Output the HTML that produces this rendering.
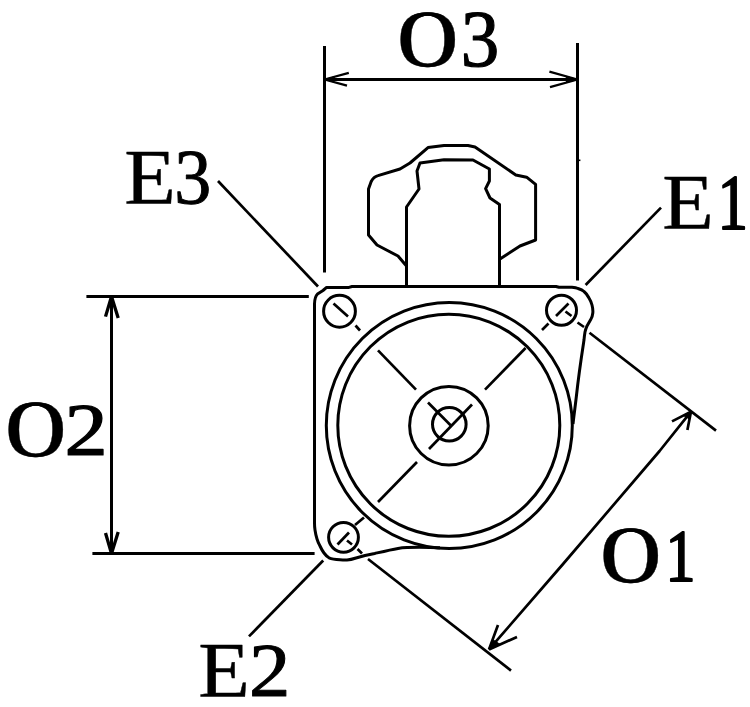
<!DOCTYPE html>
<html>
<head>
<meta charset="utf-8">
<title>Starter motor mounting diagram</title>
<style>
html,body{margin:0;padding:0;background:#fff;}
body{width:750px;height:707px;overflow:hidden;}
svg{display:block;}
.l{fill:none;stroke:#000;stroke-width:3;stroke-linecap:butt;stroke-linejoin:round;}
.l .f{fill:#000;stroke-width:1;}
.l .w{stroke-width:2.3;stroke-linejoin:miter;}
.g{stroke-width:2.7;}
.t{font-family:"Liberation Serif","DejaVu Serif",serif;font-size:80px;fill:#000;}
.o{font-size:80.5px;stroke:#000;stroke-width:0.4px;stroke-linejoin:round;}
.d{stroke:#000;stroke-width:1.2px;stroke-linejoin:round;}
.e{stroke:#000;stroke-width:0.4px;stroke-linejoin:round;}
.n{stroke-width:1.0px;}
</style>
</head>
<body>
<svg width="750" height="707" viewBox="0 0 750 707">
<defs>
<filter id="fo3" filterUnits="userSpaceOnUse" primitiveUnits="userSpaceOnUse" x="390" y="0" width="125" height="90"><feMorphology in="SourceGraphic" operator="dilate" radius="1 0" x="392" y="2" width="67" height="80" result="m"/><feMerge><feMergeNode in="SourceGraphic"/><feMergeNode in="m"/></feMerge></filter>
<filter id="fo2" filterUnits="userSpaceOnUse" primitiveUnits="userSpaceOnUse" x="0" y="390" width="125" height="90"><feMorphology in="SourceGraphic" operator="dilate" radius="1 0" x="1" y="392" width="65" height="80" result="m"/><feMerge><feMergeNode in="SourceGraphic"/><feMergeNode in="m"/></feMerge></filter>
<filter id="fo1" filterUnits="userSpaceOnUse" primitiveUnits="userSpaceOnUse" x="592" y="515" width="125" height="90"><feMorphology in="SourceGraphic" operator="dilate" radius="1 0" x="596" y="517" width="66" height="80" result="m"/><feMerge><feMergeNode in="SourceGraphic"/><feMergeNode in="m"/></feMerge></filter>
</defs>
<rect x="0" y="0" width="750" height="707" fill="#fff"/>

<!-- O3 dimension -->
<g class="l">
<path d="M324.5 46 V272.5"/>
<path d="M577.5 43 V280.5"/>
<path d="M324.5 79.5 H577.5"/>
<path class="w" style="stroke-width:2.3" d="M348.8 72.8 L324.5 79.5 M324.5 79.5 L347 85.6"/>
<path class="f" d="M324.5 79.5 L334.2 76.8 L333.5 81.9 Z"/>
<path class="w" style="stroke-width:2.3" d="M549.4 71.6 L577.5 79.5 M577.5 79.5 L550 87.2"/>
<path class="f" d="M577.5 79.5 L566.3 76.3 L566.5 82.6 Z"/>
<path d="M577.5 160.3 H580.4" style="stroke-width:1.6"/>
</g>

<!-- O2 dimension -->
<g class="l">
<path d="M86.4 296.5 H308.8"/>
<path d="M92.4 553.5 H314.6"/>
<path d="M111.5 296.5 V553.5"/>
<path class="w" style="stroke-width:3.3" d="M105.5 316.6 L111.5 296.5 M111.5 296.5 L118.2 318"/>
<path class="f" d="M111.5 296.5 L108.8 305.5 L114.5 306.2 Z"/>
<path class="w" style="stroke-width:3.3" d="M105.5 533 L111.5 553.5 M111.5 553.5 L118.2 532"/>
<path class="f" d="M111.5 553.5 L108.8 544.3 L114.5 543.8 Z"/>
</g>

<!-- O1 dimension -->
<g class="l">
<path class="g" d="M589.5 332.8 L716 430.6"/>
<path class="g" d="M368 559 L511 670.6"/>
<path class="g" d="M691 411.6 L659.6 451 L562.2 565 L489 649.4"/>
<path class="w" style="stroke-width:2.7" d="M672 421.4 L691 411.6 M691 411.6 L687.4 430"/>
<path class="f" d="M691 411.6 L683.4 415.5 L689.6 419.0 Z"/>
<path class="w" style="stroke-width:2.7" d="M498 625 L489 649.4 M489 649.4 L517 637"/>
<path class="f" d="M489 649.4 L492.6 639.6 L500.2 644.4 Z"/>
</g>

<!-- leaders -->
<g class="l g">
<path d="M218 181 L318 286.5"/>
<path d="M585.6 285 L661 207.6"/>
<path d="M323.2 560.5 L249 636.4"/>
</g>

<!-- solenoid -->
<g class="l">
<path d="M406.5 266 L398 256 L377 245 L368.5 235 L368.5 189 L371.2 181.5 Q373.6 176.8 378 175.6 L400 169 L410 163 L428 147.6 L444 145.5 L468 145.5 L475 147 L515.8 175 L526.6 177.2 L535.6 184.4 L535.6 240 L520 246 L500 259"/>
<path d="M406.5 286.5 V207 L419 189 L417 171 L420 163 L444 159.8 L473 160 L489.4 169 L489.4 181 L485.6 188.6 L490 198 L499.5 204.4 V286.5"/>
</g>

<!-- body -->
<g class="l">
<path d="M314.5 524 V304 C314.6 299.5 315.5 296 317.5 294 L323 290.5 L326.6 287.4 L349 287.4 L352 286.5 L556 286.5 L559 287.3 L572 287.3 C575 287.5 577 288 578 288.5 C581 289.5 583 290.6 584 291.5 C586.5 293.5 588 296 589 298 C590.5 300.5 591.5 303 592 305 C592.8 308 593 311 592.8 313 C592.5 315.5 592 317.5 591 319 L587 326 C586 328 585.4 330 585 332 C584.5 335 584.2 337.5 584 340 C582 353 579 372 576.4 396 C575.4 405 574.2 413 573 424"/>
<path d="M314.5 523 C314.5 526 314.7 528 315 530 C315.5 533.5 316.2 536.5 317 539 C317.8 541.6 318.8 544 320 546 C321.2 548.6 322.5 551 324 553 C325.5 555 327.3 556.8 329 557.8 C332 559 336 559.5 340 559.8 C342.5 560 345 560.1 347 560 C350 559.8 353 559 356 558 L365 555.5 L374.7 553.5 C383 551.5 391 549.5 398 548.4 C408 547 420 547 440 547.8"/>
</g>

<!-- circles -->
<g class="l">
<circle cx="449.3" cy="425.5" r="123"/>
<circle cx="448.8" cy="425.3" r="111"/>
<circle cx="448.9" cy="425.7" r="39.3"/>
<circle cx="449.3" cy="424.3" r="16.8"/>
<circle cx="339.5" cy="311.25" r="15.9"/>
<circle cx="561.5" cy="310.25" r="15"/>
<circle cx="343.5" cy="537.35" r="14.9"/>
</g>

<!-- centre lines -->
<g class="l g">
<path d="M429 449 L472 404.5"/>
<path d="M428 402.5 L450.6 425.2"/>
<path d="M378 350.4 L416 389.6"/>
<path d="M485 389.6 L525.6 348"/>
<path d="M417 462 L378 502"/>
<path d="M333.5 303.5 L348 316.5"/>
<path d="M355.5 325.5 L360 330.5"/>
<path d="M556 316 L568.5 303.5"/>
<path d="M565.5 311.5 L571.5 316"/>
<path d="M542 330 L548.5 323.5"/>
<path d="M577.5 322.5 L584 327"/>
<path d="M337.5 544.5 L349 532.5"/>
<path d="M347 540.5 L352 544.5"/>
<path d="M355 525 L364 517.5"/>
<path d="M357.5 549 L362 553.5"/>
</g>

<!-- labels -->
<g class="t">
<text y="66.3" filter="url(#fo3)"><tspan class="o" x="398.3" textLength="59" lengthAdjust="spacingAndGlyphs">O</tspan><tspan class="d" x="460.8" y="66.4" textLength="38.5" lengthAdjust="spacingAndGlyphs">3</tspan></text>
<text y="456" filter="url(#fo2)"><tspan class="o" x="6.3" textLength="59" lengthAdjust="spacingAndGlyphs">O</tspan><tspan class="d" x="64.6" y="455.2" textLength="43.2" lengthAdjust="spacingAndGlyphs" style="font-size:74px">2</tspan></text>
<text y="582" filter="url(#fo1)"><tspan class="o" x="601.3" textLength="59" lengthAdjust="spacingAndGlyphs">O</tspan><tspan class="d" x="665.6" y="580.8" textLength="30" lengthAdjust="spacingAndGlyphs" style="stroke-width:2px;font-size:73px">1</tspan></text>
</g>
<g class="t e" style="font-size:78px">
<text y="203"><tspan x="124.2" textLength="51.6" lengthAdjust="spacingAndGlyphs">E</tspan><tspan class="n" x="174.2" y="203.4" textLength="37" lengthAdjust="spacingAndGlyphs">3</tspan></text>
<text y="228"><tspan x="662.2" textLength="51.6" lengthAdjust="spacingAndGlyphs">E</tspan><tspan class="n" x="717.6" y="227.8" style="stroke-width:2px;font-size:78px" textLength="30.5" lengthAdjust="spacingAndGlyphs">1</tspan></text>
<text y="696"><tspan x="198.2" textLength="51.6" lengthAdjust="spacingAndGlyphs">E</tspan><tspan class="n" x="249" y="696" textLength="41.4" lengthAdjust="spacingAndGlyphs" style="font-size:76.5px">2</tspan></text>
</g>
</svg>
</body>
</html>
